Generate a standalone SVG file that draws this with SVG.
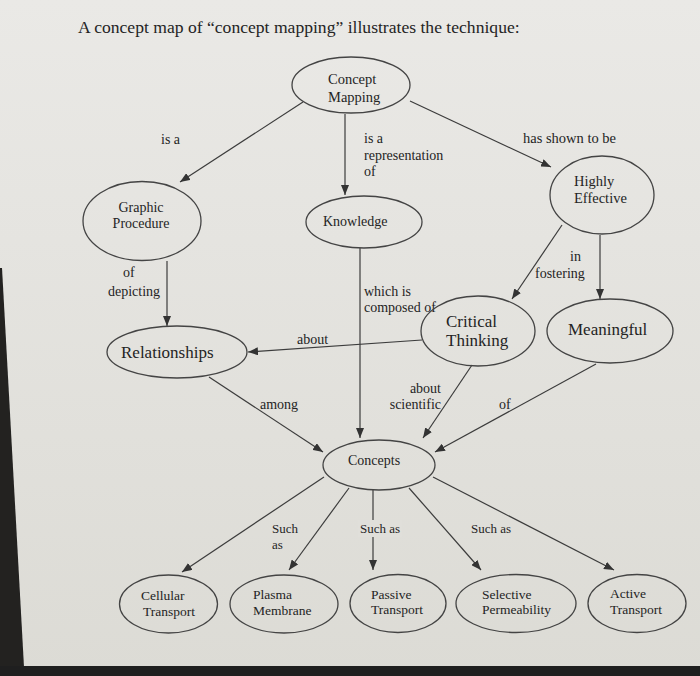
<svg xmlns="http://www.w3.org/2000/svg" width="700" height="676" viewBox="0 0 700 676">
<defs>
<linearGradient id="bg" x1="0" y1="0" x2="0" y2="1">
<stop offset="0" stop-color="#eae9e6"/>
<stop offset="1" stop-color="#dcdbd5"/>
</linearGradient>
<marker id="ah" markerUnits="userSpaceOnUse" markerWidth="10" markerHeight="8" refX="10" refY="4" orient="auto">
<path d="M0,0 L10,4 L0,8 z" fill="#333"/>
</marker>
<style>
.n ellipse{fill:none;stroke:#444;stroke-width:1.3}
text{font-family:"Liberation Serif","Times New Roman",serif;fill:#242424}
.t14{font-size:14.5px}
.t17{font-size:17px}
.b{font-size:13.5px}
.l{font-size:14px}
.s{font-size:13px}
#edges line{stroke:#3c3c3c;stroke-width:1.2;marker-end:url(#ah)}
</style>
</defs>
<rect width="700" height="676" fill="url(#bg)"/>
<polygon points="0,268 2,268 24,667 0,667" fill="#232220"/>
<rect x="0" y="666" width="700" height="10" fill="#1f1f1f"/>

<text x="78" y="33" style="font-size:17.6px">A concept map of “concept mapping” illustrates the technique:</text>

<g id="edges">
<line x1="303" y1="102" x2="180" y2="182"/>
<line x1="345" y1="114" x2="345" y2="195"/>
<line x1="410" y1="101" x2="551" y2="167"/>
<line x1="167" y1="261" x2="167" y2="326"/>
<line x1="360" y1="248" x2="360" y2="438"/>
<line x1="562" y1="225" x2="512" y2="299"/>
<line x1="600" y1="235" x2="600" y2="299"/>
<line x1="422" y1="340" x2="248" y2="352"/>
<line x1="209" y1="377" x2="323" y2="452"/>
<line x1="472" y1="365" x2="423" y2="438"/>
<line x1="596" y1="364" x2="435" y2="452"/>
<line x1="324" y1="477" x2="182" y2="572"/>
<line x1="349" y1="488" x2="289" y2="570"/>
<line x1="373" y1="490" x2="373" y2="570"/>
<line x1="409" y1="488" x2="481" y2="570"/>
<line x1="433" y1="477" x2="614" y2="570"/>
</g>

<g id="labels">
<text class="l" x="161" y="144">is a</text>
<text class="l" x="364" y="143">is a</text>
<text class="l" x="364" y="160">representation</text>
<text class="l" x="364" y="176">of</text>
<text class="t14" x="523" y="143">has shown to be</text>
<text class="l" x="123" y="277">of</text>
<text class="l" x="108" y="296">depicting</text>
<text class="l" x="364" y="296">which is</text>
<text class="l" x="364" y="312">composed of</text>
<text class="l" x="570" y="261">in</text>
<text class="l" x="535" y="278">fostering</text>
<text class="l" x="297" y="344">about</text>
<text class="l" x="260" y="409">among</text>
<text class="l" x="441" y="393" text-anchor="end">about</text>
<text class="l" x="441" y="409" text-anchor="end">scientific</text>
<text class="l" x="499" y="409">of</text>
<text class="s" x="272" y="533">Such</text>
<text class="s" x="272" y="549">as</text>
<rect x="358" y="520" width="44" height="17" fill="#e0dfda"/>
<text class="s" x="360" y="533">Such as</text>
<text class="s" x="471" y="533">Such as</text>
</g>

<g id="concept-mapping" class="n">
<ellipse cx="351" cy="85" rx="59" ry="28"/>
<text class="t14" x="328" y="84">Concept</text>
<text class="t14" x="328" y="102">Mapping</text>
</g>
<g id="graphic-procedure" class="n">
<ellipse cx="142" cy="221" rx="59" ry="39.5"/>
<text class="l" x="141" y="212" text-anchor="middle">Graphic</text>
<text class="l" x="141" y="228" text-anchor="middle">Procedure</text>
</g>
<g id="knowledge" class="n">
<ellipse cx="364" cy="222" rx="58" ry="26"/>
<text class="l" x="323" y="226">Knowledge</text>
</g>
<g id="highly-effective" class="n">
<ellipse cx="602" cy="195" rx="52" ry="39"/>
<text class="t14" x="574" y="186">Highly</text>
<text class="t14" x="574" y="203">Effective</text>
</g>
<g id="relationships" class="n">
<ellipse cx="177" cy="352" rx="70" ry="26"/>
<text class="t17" x="121" y="358">Relationships</text>
</g>
<g id="critical-thinking" class="n">
<ellipse cx="478" cy="331" rx="57" ry="35"/>
<text class="t17" x="446" y="327">Critical</text>
<text class="t17" x="446" y="346">Thinking</text>
</g>
<g id="meaningful" class="n">
<ellipse cx="610" cy="331" rx="63" ry="32"/>
<text class="t17" x="568" y="335">Meaningful</text>
</g>
<g id="concepts" class="n">
<ellipse cx="379" cy="465" rx="56" ry="25"/>
<text class="l" x="348" y="465">Concepts</text>
</g>
<g id="cellular-transport" class="n">
<ellipse cx="168.5" cy="604" rx="49" ry="29"/>
<text class="b" x="141" y="600">Cellular</text>
<text class="b" x="143" y="616">Transport</text>
</g>
<g id="plasma-membrane" class="n">
<ellipse cx="284" cy="604" rx="54" ry="29"/>
<text class="b" x="253" y="599">Plasma</text>
<text class="b" x="253" y="615">Membrane</text>
</g>
<g id="passive-transport" class="n">
<ellipse cx="398" cy="603.5" rx="48" ry="29"/>
<text class="b" x="371" y="599">Passive</text>
<text class="b" x="371" y="614">Transport</text>
</g>
<g id="selective-permeability" class="n">
<ellipse cx="516" cy="603.5" rx="60" ry="29"/>
<text class="b" x="482" y="599">Selective</text>
<text class="b" x="482" y="614">Permeability</text>
</g>
<g id="active-transport" class="n">
<ellipse cx="637" cy="603.5" rx="49" ry="29"/>
<text class="b" x="610" y="598">Active</text>
<text class="b" x="610" y="614">Transport</text>
</g>
</svg>
